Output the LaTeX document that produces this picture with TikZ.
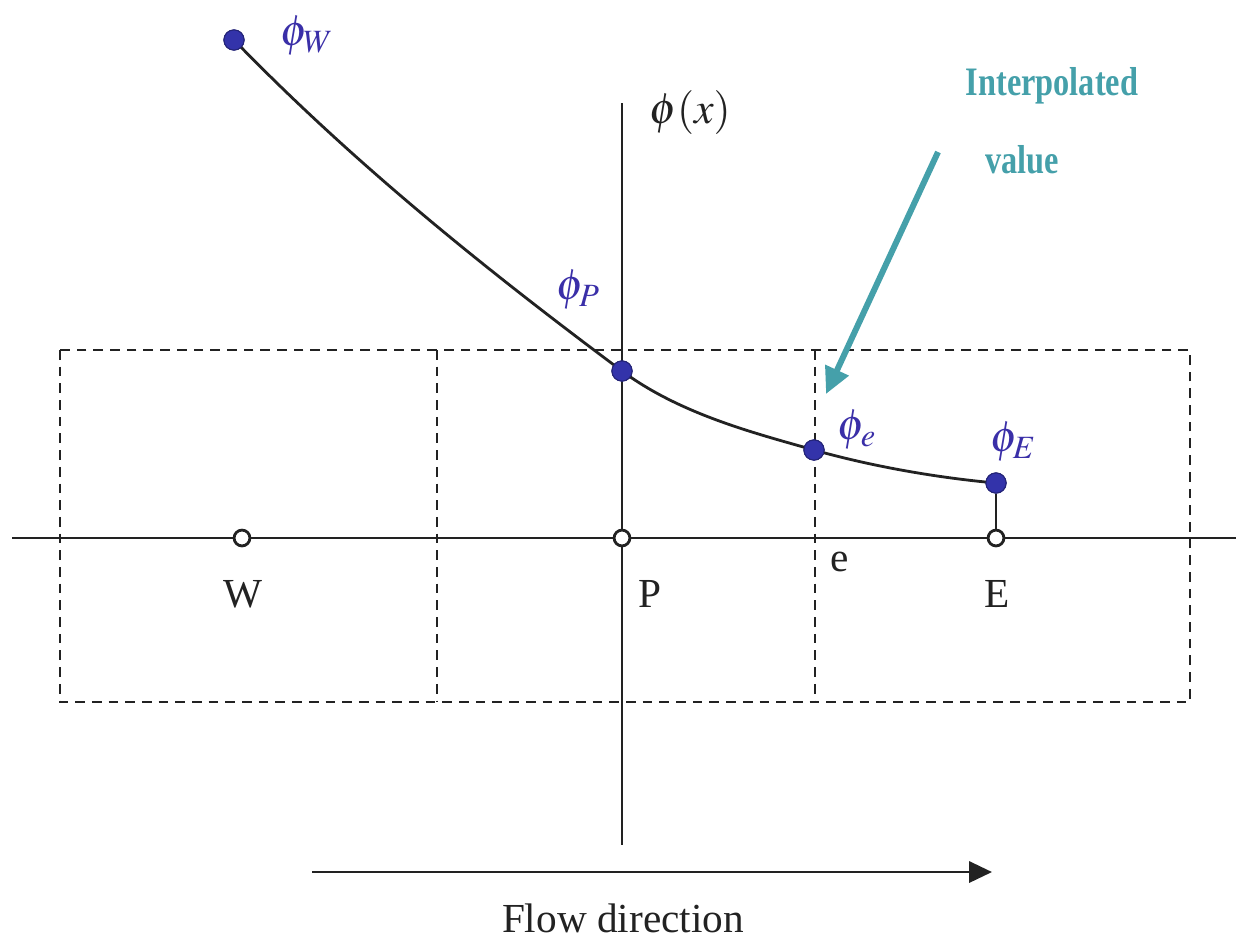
\documentclass[tikz,border=0pt]{standalone}
\usepackage{mathptmx}
\usepackage[no-math]{fontspec}
\setmainfont{Liberation Serif}
\usetikzlibrary{arrows.meta}
\definecolor{dotblue}{HTML}{3333AA}
\definecolor{lblblue}{HTML}{3A2FA8}
\definecolor{teal2}{HTML}{45A0AA}
\definecolor{ink}{HTML}{222222}
\tikzset{
  valdot/.style={circle,fill=dotblue,draw=dotblue!70!black,line width=0.6pt,inner sep=0pt,minimum size=11.5pt},
  gridpt/.style={circle,fill=white,draw=ink,line width=1.6pt,inner sep=0pt,minimum size=9pt},
  axisline/.style={draw=ink,line width=1.6pt},
  cellbox/.style={draw=ink,line width=1.2pt,dash pattern=on 5.5pt off 4pt},
  philbl/.style={text=lblblue,font=\fontsize{25}{28}\selectfont},
  plainlbl/.style={text=ink,font=\fontsize{23.5}{27}\selectfont},
  teallbl/.style={text=teal2,font=\bfseries\fontsize{23}{26}\selectfont,xscale=0.8},
}
\begin{document}
\begin{tikzpicture}[x=0.02cm,y=-0.02cm]
\useasboundingbox (0,0) rectangle (1236,941);
% cells
\draw[cellbox] (60,350) rectangle (1190,702);
\draw[cellbox] (437,350) -- (437,702);
\draw[cellbox] (815,350) -- (815,702);
% axes
\coordinate (hl) at (12,538);
\coordinate (hr) at (1236,538);
\coordinate (vt) at (622,103);
\coordinate (vb) at (622,845);
\draw[axisline] (hl) -- (hr);
\draw[axisline] (vt) -- (vb);
% points
\node[valdot] (pW) at (234,40) {};
\node[valdot] (pP) at (622,371) {};
\node[valdot] (pe) at (814,450) {};
\node[gridpt] (W) at (242,538) {};
\node[gridpt] (P) at (622,538) {};
\node[gridpt] (E) at (996,538) {};
\node[valdot] (pE) at (996,483) {};
% curve
\draw[ink,line width=1.6pt] (pW.center) .. controls (360,170) and (500,280) .. (pP.center)
  .. controls (680,414) and (754,433) .. (pe.center)
  .. controls (874,467) and (940,478) .. (pE.center);
\draw[axisline] (E) -- (pE);
\foreach \n in {pW,pP,pe,pE} \node[valdot] at (\n) {};
% labels
\node[plainlbl] (lW) at (243,594) {W};
\node[plainlbl] (lP) at (650,594) {P};
\node[plainlbl] (le) at (840,562) {e};
\node[plainlbl] (lE) at (997,594) {E};
\node[philbl] (tW) at (307,36) {$\phi_W$};
\node[philbl] (tP) at (578,290) {$\phi_P$};
\node[philbl] (te) at (857,430) {$\phi_e$};
\node[philbl] (tE) at (1013,442) {$\phi_E$};
\node[text=ink,font=\fontsize{25}{28}\selectfont] (tx) at (690,113) {$\phi(x)$};
% interpolated
\node[teallbl] (i1) at (1052,86) {Interpolated};
\node[teallbl] (i2) at (1022,160) {value};
\coordinate (ta) at (938,152);
\coordinate (tb) at (826,394);
\draw[teal2,line width=3.4pt,-{Triangle[length=15pt,width=14pt]}] (ta) -- (tb);
% flow
\coordinate (fa) at (312,872);
\coordinate (fb) at (992,872);
\draw[ink,line width=1.6pt,-{Triangle[length=13pt,width=12pt]}] (fa) -- (fb);
\node[plainlbl] (fl) at (623,918) {Flow direction};
\end{tikzpicture}
\end{document}
